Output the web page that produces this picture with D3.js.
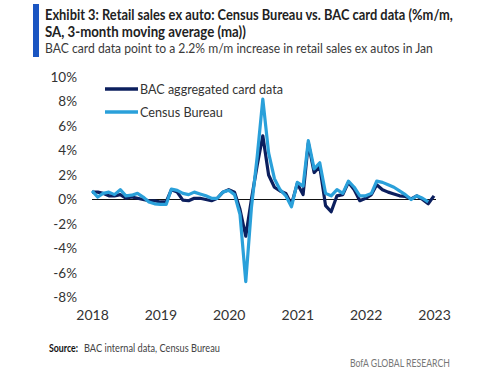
<!DOCTYPE html>
<html>
<head>
<meta charset="utf-8">
<script src="https://cdn.jsdelivr.net/npm/d3@7"></script>
<style>
  body { margin: 0; background: #fff; }
  svg { display: block; }
</style>
</head>
<body>
<script>
// monthly 3mma, %m/m, Jan 2018 .. Jan 2023
const startMonth = "2018-01";
const bacCard = [
	0.6, 0.6, 0.5, 0.3, 0.3, 0.4, 0.1, 0.2, 0.1, 0.0, -0.1, -0.1,
	-0.2, -0.2, 0.8, 0.6, -0.05, -0.1, 0.1, 0.1, 0.0, -0.1, 0.1, 0.6,
	0.8, 0.6, -0.8, -3.0, 0.0, 2.8, 5.2, 2.0, 1.0, 0.7, 0.5, -0.4,
	1.3, 0.4, 4.6, 2.2, 2.7, -0.5, -1.0, 0.3, 0.4, 1.4, 0.8, -0.1,
	0.1, 0.4, 1.2, 0.8, 0.6, 0.45, 0.3, 0.25, 0.05, 0.3, 0.0, -0.35,
	0.3
];
const censusBureau = [
	0.7, 0.2, 0.5, 0.6, 0.4, 0.8, 0.3, 0.35, 0.5, 0.2, -0.2, -0.35,
	-0.4, -0.4, 0.85, 0.75, 0.5, 0.4, 0.6, 0.45, 0.3, 0.1, 0.1, 0.6,
	0.75, 0.4, -1.2, -6.7, -0.7, 3.5, 8.2, 3.8, 1.7, 0.8, 0.3, -0.6,
	1.4, 1.1, 4.8, 2.5, 3.0, 0.5, 0.3, 0.8, 0.5, 1.5, 1.0, 0.3,
	0.3, 0.5, 1.5, 1.4, 1.2, 1.0, 0.7, 0.4, 0.0, 0.3, 0.1, -0.2
];
const yearTicks = [2018, 2019, 2020, 2021, 2022, 2023];
const yTicks = [-8, -6, -4, -2, 0, 2, 4, 6, 8, 10];
const seriesNames = ["BAC aggregated card data", "Census Bureau"];
const seriesColors = ["#0c1f5e", "#2aa0da"];

const width = 500, height = 373;
const font = "Lato, 'Open Sans', sans-serif";

const parseMonth = d3.utcParse("%Y-%m");
const t0 = parseMonth(startMonth);
const monthDate = i => d3.utcMonth.offset(t0, i);

const series = [bacCard, censusBureau].map((vals, k) => ({
	name: seriesNames[k],
	color: seriesColors[k],
	values: vals.map((v, i) => ({date: monthDate(i), value: v}))
}));

// narrow a text horizontally to a given width (the house font is condensed)
const fit = (x0, y0, w) => function () {
	const k = Math.min(1, w / this.getComputedTextLength());
	this.setAttribute("transform", `translate(${x0},${y0}) scale(${k},1)`);
};

const x = d3.scaleUtc()
	.domain([t0, monthDate(60)])
	.range([92, 434]);

const y = d3.scaleLinear()
	.domain([-8, 10])
	.range([297.5, 77]);

const svg = d3.select("body").append("svg")
	.attr("width", width)
	.attr("height", height)
	.attr("font-family", font);

// header
svg.append("rect")
	.attr("x", 33).attr("y", 4)
	.attr("width", 6).attr("height", 53)
	.attr("fill", "#1a55c2");

const title = svg.append("g").attr("fill", "#222");
title.append("text")
	.attr("font-size", 14.5).attr("font-weight", "bold")
	.text("Exhibit 3: Retail sales ex auto: Census Bureau vs. BAC card data (%m/m,")
	.each(fit(45, 20, 408));
title.append("text")
	.attr("font-size", 14.5).attr("font-weight", "bold")
	.text("SA, 3-month moving average (ma))")
	.each(fit(45, 37, 201));
title.append("text")
	.attr("font-size", 13).attr("fill", "#3a3a3a")
	.text("BAC card data point to a 2.2% m/m increase in retail sales ex autos in Jan")
	.each(fit(45, 53, 388));

// axes
svg.append("g")
	.attr("transform", "translate(79,0)")
	.call(d3.axisLeft(y).tickValues(yTicks).tickSize(0).tickPadding(2).tickFormat(d => d + "%"))
	.call(g => g.select(".domain").remove())
	.call(g => g.selectAll("text")
		.attr("font-family", font).attr("font-size", 13.5).attr("fill", "#333"));

svg.append("g")
	.attr("transform", "translate(0,305)")
	.call(d3.axisBottom(x)
		.tickValues(yearTicks.map(yr => d3.utcParse("%Y")(String(yr))))
		.tickSize(0).tickPadding(5).tickFormat(d3.utcFormat("%Y")))
	.call(g => g.select(".domain").remove())
	.call(g => g.selectAll("text")
		.attr("font-family", font).attr("font-size", 14).attr("fill", "#333"));

// zero line
svg.append("line")
	.attr("x1", x(t0)).attr("x2", x(monthDate(60)) + 2)
	.attr("y1", y(0)).attr("y2", y(0))
	.attr("stroke", "#111").attr("stroke-width", 1.2);

const line = d3.line()
	.x(d => x(d.date))
	.y(d => y(d.value));

svg.append("g")
		.attr("fill", "none")
		.attr("stroke-width", 3.2)
		.attr("stroke-linejoin", "round")
	.selectAll("path")
	.data(series)
	.join("path")
		.attr("stroke", d => d.color)
		.attr("d", d => line(d.values));

// legend
const legend = svg.append("g")
	.selectAll("g")
	.data(series)
	.join("g")
		.attr("transform", (d, i) => `translate(105,${89 + i * 23})`);

legend.append("line")
	.attr("x1", 0).attr("x2", 33)
	.attr("stroke", d => d.color)
	.attr("stroke-width", 3.5);

legend.append("text")
	.attr("dy", "0.35em")
	.attr("font-size", 14)
	.attr("fill", "#333")
	.text(d => d.name)
	.each(function (d, i) { fit(35, 0, [143, 83][i]).call(this); });

// footer
svg.append("text")
	.attr("font-size", 10.5).attr("font-weight", "bold").attr("fill", "#111")
	.text("Source:")
	.each(fit(49, 352, 29));
svg.append("text")
	.attr("font-size", 10.5).attr("fill", "#444")
	.text("BAC internal data, Census  Bureau")
	.each(fit(84, 352, 136));

svg.append("text")
	.attr("font-size", 10.5).attr("fill", "#777")
	.text("BofA GLOBAL RESEARCH")
	.each(fit(350, 367, 100));
</script>
</body>
</html>
